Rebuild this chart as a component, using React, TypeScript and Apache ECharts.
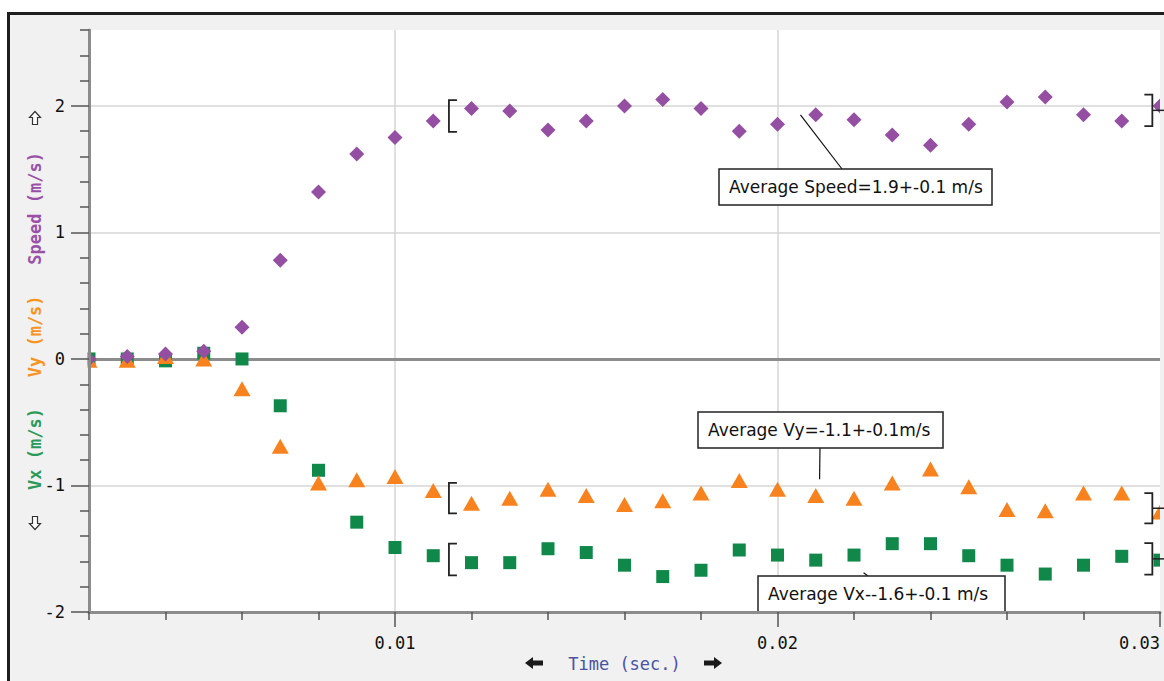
import React, { useEffect, useRef } from 'react';
import * as echarts from 'echarts';

const time = [
  0.002, 0.003, 0.004, 0.005, 0.006, 0.007, 0.008, 0.009, 0.010, 0.011,
  0.012, 0.013, 0.014, 0.015, 0.016, 0.017, 0.018, 0.019, 0.020, 0.021,
  0.022, 0.023, 0.024, 0.025, 0.026, 0.027, 0.028, 0.029, 0.030,
];
const speed = [
  0.0, 0.02, 0.04, 0.06, 0.25, 0.78, 1.32, 1.62, 1.75, 1.88,
  1.98, 1.96, 1.81, 1.88, 2.0, 2.05, 1.98, 1.8, 1.855, 1.93,
  1.89, 1.77, 1.69, 1.855, 2.03, 2.07, 1.93, 1.88, 2.0,
];
const vy = [
  -0.01, -0.01, 0.02, 0.0, -0.235, -0.69, -0.98, -0.955, -0.93, -1.04,
  -1.14, -1.1, -1.03, -1.08, -1.15, -1.12, -1.06, -0.96, -1.03, -1.08,
  -1.1, -0.98, -0.87, -1.01, -1.19, -1.2, -1.06, -1.06, -1.21,
];
const vx = [
  0.0, 0.0, -0.015, 0.045, 0.0, -0.37, -0.88, -1.29, -1.49, -1.555,
  -1.61, -1.61, -1.5, -1.53, -1.63, -1.72, -1.67, -1.51, -1.55, -1.59,
  -1.55, -1.46, -1.46, -1.555, -1.63, -1.7, -1.63, -1.56, -1.59,
];

const xMin = 0.002;
const xMax = 0.03;
const yMin = -2;
const yMax = 2.6;
const xLabelTicks = [0.01, 0.02, 0.03];
const xMinorTicks = [0.002, 0.004, 0.006, 0.008, 0.012, 0.014, 0.016, 0.018, 0.022, 0.024, 0.026, 0.028];
const xGridTicks = [0.01, 0.02];
const yLabelTicks = [-2, -1, 0, 1, 2];
const yMinorTicks = [-1.8, -1.6, -1.4, -1.2, -0.8, -0.6, -0.4, -0.2, 0.2, 0.4, 0.6, 0.8, 1.2, 1.4, 1.6, 1.8, 2.2, 2.4, 2.6];
const yGridTicks = [-1, 0, 1, 2];

// brackets: [centre, half-height] in m/s
const leftBracketTime = 0.01141;
const rightBracketTime = 0.0298;
const leftBrackets = [[1.92, 0.125], [-1.1, 0.12], [-1.585, 0.125]];
const rightBrackets = [[1.965, 0.125], [-1.18, 0.12], [-1.58, 0.125]];

const annotationTexts = ['Average Speed=1.9+-0.1 m/s', 'Average Vy=-1.1+-0.1m/s', 'Average Vx--1.6+-0.1 m/s'];
const annotationAnchors = [[0.0206, 1.93], [0.0211, -0.95], [0.02225, -1.69]];

const MONO = 'DejaVu Sans Mono';
const SANS = 'DejaVu Sans';
const BG = '#f0f1f0';

export default function App() {
  const ref = useRef<HTMLDivElement>(null);
  useEffect(() => {
    if (!ref.current) return;
    const chart = echarts.init(ref.current, null, { renderer: 'svg' });
    const axisColor = '#8c8c8c';
    const gridColor = '#d6d6d6';
    const tickColor = '#555';
    const option: any = {
      animation: false,
      grid: { left: 89, right: 4, top: 30, bottom: 69, show: true, backgroundColor: '#ffffff', borderWidth: 0 },
      xAxis: [
        {
          type: 'value', position: 'bottom', min: xMin, max: xMax, z: 0,
          axisLine: { show: true, onZero: true, onZeroAxisIndex: 0, lineStyle: { color: axisColor, width: 3 } },
          axisTick: { show: false, customValues: xGridTicks },
          axisLabel: { show: false },
          splitLine: { show: true, lineStyle: { color: gridColor, width: 1.5 } },
        },
        {
          type: 'value', position: 'bottom', min: xMin, max: xMax, z: 10,
          axisLine: { show: true, onZero: false, lineStyle: { color: axisColor, width: 3 } },
          axisTick: { show: true, customValues: xLabelTicks, length: 15, lineStyle: { color: tickColor, width: 1.5 } },
          axisLabel: {
            show: true, customValues: xLabelTicks, margin: 22, fontFamily: MONO, fontSize: 17, color: '#111',
            alignMaxLabel: 'right', formatter: (v: number) => v.toFixed(2),
          },
          splitLine: { show: false },
          name: 'Time (sec.)', nameLocation: 'middle', nameGap: 42,
          nameTextStyle: { fontFamily: MONO, fontSize: 17, color: '#4a52a3' },
        },
        {
          type: 'value', position: 'bottom', min: xMin, max: xMax, z: 10,
          axisLine: { show: false, onZero: false },
          axisTick: { show: true, customValues: xMinorTicks, length: 8, lineStyle: { color: tickColor, width: 1.5 } },
          axisLabel: { show: false },
          splitLine: { show: false },
        },
      ],
      yAxis: [
        {
          type: 'value', position: 'left', min: yMin, max: yMax, z: 0,
          axisLine: { show: false, onZero: false },
          axisTick: { show: false, customValues: yGridTicks },
          axisLabel: { show: false },
          splitLine: { show: true, lineStyle: { color: gridColor, width: 1.5 } },
        },
        {
          type: 'value', position: 'left', min: yMin, max: yMax, z: 10,
          axisLine: { show: true, onZero: false, lineStyle: { color: axisColor, width: 3 } },
          axisTick: { show: true, customValues: yLabelTicks, length: 18, lineStyle: { color: tickColor, width: 1.5 } },
          axisLabel: { show: true, customValues: yLabelTicks, margin: 24, fontFamily: MONO, fontSize: 17, color: '#111' },
          splitLine: { show: false },
        },
        {
          type: 'value', position: 'left', min: yMin, max: yMax, z: 10,
          axisLine: { show: false, onZero: false },
          axisTick: { show: true, customValues: yMinorTicks, length: 9, lineStyle: { color: tickColor, width: 1.5 } },
          axisLabel: { show: false },
          splitLine: { show: false },
        },
      ],
      series: [
        {
          name: 'Vx', type: 'scatter', xAxisIndex: 0, yAxisIndex: 0, clip: false, z: 2,
          symbol: 'rect', symbolSize: 13, itemStyle: { color: '#10884a', opacity: 1 },
          data: time.map((t, i) => [t, vx[i]]),
        },
        {
          name: 'Vy', type: 'scatter', xAxisIndex: 0, yAxisIndex: 0, clip: false, z: 2,
          symbol: 'triangle', symbolSize: [17, 15], itemStyle: { color: '#f7821e', opacity: 1 },
          data: time.map((t, i) => [t, vy[i]]),
        },
        {
          name: 'Speed', type: 'scatter', xAxisIndex: 0, yAxisIndex: 0, clip: false, z: 2,
          symbol: 'diamond', symbolSize: [15, 15], itemStyle: { color: '#954fa2', opacity: 1 },
          data: time.map((t, i) => [t, speed[i]]),
        },
      ],
    };
    chart.setOption(option);

    const px = (t: number, v: number) => chart.convertToPixel({ xAxisIndex: 0, yAxisIndex: 0 }, [t, v]) as number[];
    const g: any[] = [];
    const [plotL, plotT] = px(xMin, yMax);
    const [plotR, plotB] = px(xMax, yMin);
    // masks outside the plot so edge symbols look clipped
    g.push({ type: 'rect', z: 5, silent: true, shape: { x: 12, y: 16, width: plotL - 1.5 - 12, height: 660 }, style: { fill: BG } });
    g.push({ type: 'rect', z: 5, silent: true, shape: { x: plotR, y: plotT - 10, width: 20, height: plotB - plotT + 10 }, style: { fill: BG } });

    // rotated, multi-coloured y title
    g.push({
      type: 'text', z: 11, x: 35, y: (plotT + plotB) / 2, rotation: Math.PI / 2,
      style: {
        text: '{vx|Vx (m/s)}   {vy|Vy (m/s)}   {sp|Speed (m/s)}',
        fontFamily: MONO, fontSize: 17, fontWeight: 'bold', fill: '#444',
        align: 'center', verticalAlign: 'middle',
        rich: {
          vx: { fontFamily: MONO, fontSize: 17, fontWeight: 'bold', fill: '#2b9a58' },
          vy: { fontFamily: MONO, fontSize: 17, fontWeight: 'bold', fill: '#f7941e' },
          sp: { fontFamily: MONO, fontSize: 17, fontWeight: 'bold', fill: '#9b50a8' },
        },
      },
    });

    const bStyle = { stroke: '#222', lineWidth: 1.8, fill: 'none' };
    leftBrackets.forEach(([c, h]) => {
      const [x, yTop] = px(leftBracketTime, c + h);
      const [, yBot] = px(leftBracketTime, c - h);
      g.push({ type: 'polyline', z: 6, shape: { points: [[x + 8, yTop], [x, yTop], [x, yBot], [x + 8, yBot]] }, style: bStyle });
    });
    rightBrackets.forEach(([c, h]) => {
      const [x, yTop] = px(rightBracketTime, c + h);
      const [, yBot] = px(rightBracketTime, c - h);
      const [, yMid] = px(rightBracketTime, c);
      g.push({ type: 'polyline', z: 6, shape: { points: [[x - 8, yTop], [x, yTop], [x, yBot], [x - 8, yBot]] }, style: bStyle });
      g.push({ type: 'line', z: 6, shape: { x1: x, y1: yMid, x2: x + 16, y2: yMid }, style: { stroke: '#222', lineWidth: 1.5 } });
    });

    const boxes = [
      { x: 719, y: 169, w: 273, h: 36, lx: 842 },
      { x: 698, y: 412, w: 245, h: 36, lx: 820 },
      { x: 758, y: 576, w: 247, h: 36, lx: 868 },
    ];
    boxes.forEach((b, i) => {
      const [ax, ay] = px(annotationAnchors[i][0], annotationAnchors[i][1]);
      const ey = ay < b.y ? b.y : b.y + b.h;
      g.push({ type: 'line', z: 7, shape: { x1: ax, y1: ay, x2: b.lx, y2: ey }, style: { stroke: '#111', lineWidth: 1.2 } });
      g.push({ type: 'rect', z: 7, shape: { x: b.x, y: b.y, width: b.w, height: b.h }, style: { fill: '#fff', stroke: '#222', lineWidth: 1.5 } });
      g.push({
        type: 'text', z: 8, x: b.x + 10, y: b.y + b.h / 2,
        style: { text: annotationTexts[i], fontFamily: SANS, fontSize: 17, fill: '#111', align: 'left', verticalAlign: 'middle' },
      });
    });

    // hollow up / down arrows beside the y title
    const hollow = (cx: number, cy: number, dir: number) => ({
      type: 'polygon', z: 11,
      shape: {
        points: [
          [cx, cy - 6.5 * dir], [cx + 5.5, cy - 0.5 * dir], [cx + 2.5, cy - 0.5 * dir], [cx + 2.5, cy + 6.5 * dir],
          [cx - 2.5, cy + 6.5 * dir], [cx - 2.5, cy - 0.5 * dir], [cx - 5.5, cy - 0.5 * dir],
        ],
      },
      style: { fill: '#fff', stroke: '#333', lineWidth: 1.2 },
    });
    g.push(hollow(35, 118, 1));
    g.push(hollow(35, 523, -1));

    // solid left / right arrows beside the x title
    const arrow = (cx: number, cy: number, dir: number) => ({
      type: 'polygon', z: 11,
      shape: {
        points: [
          [cx - 9 * dir, cy], [cx - 1 * dir, cy - 6], [cx - 1 * dir, cy - 2.5], [cx + 9 * dir, cy - 2.5],
          [cx + 9 * dir, cy + 2.5], [cx - 1 * dir, cy + 2.5], [cx - 1 * dir, cy + 6],
        ],
      },
      style: { fill: '#1a1a1a' },
    });
    g.push(arrow(534, 663, 1));
    g.push(arrow(713, 663, -1));

    chart.setOption({ graphic: g });
    return () => chart.dispose();
  }, []);

  return (
    <div style={{ position: 'absolute', left: 0, top: 0, width: 1164, height: 681, overflow: 'hidden', background: '#fff' }}>
      <div
        style={{
          position: 'absolute', left: 7, top: 12, width: 1200, height: 720, boxSizing: 'border-box',
          border: '3px solid #1e1e1e', background: BG,
        }}
      />
      <div ref={ref} style={{ position: 'absolute', left: 0, top: 0, width: 1164, height: 681 }} />
    </div>
  );
}
